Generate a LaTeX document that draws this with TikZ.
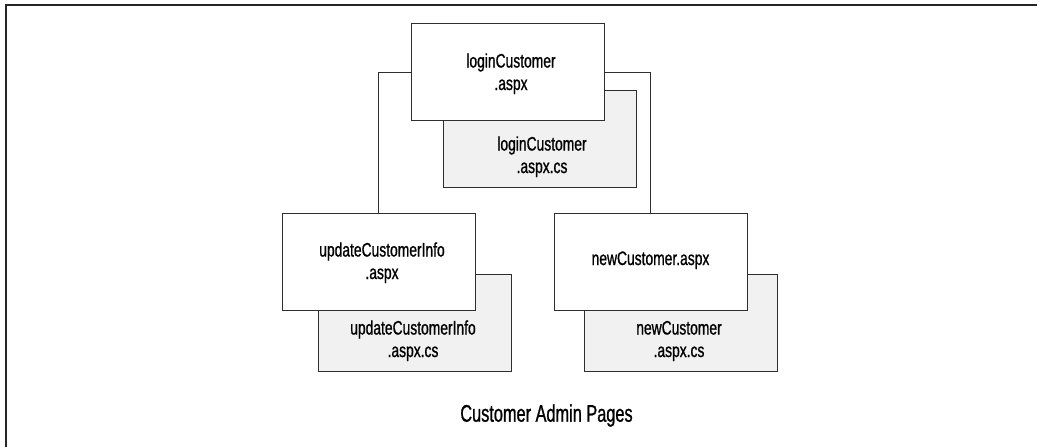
\documentclass[tikz,border=0pt]{standalone}
\usepackage{fontspec}
\setmainfont[FakeStretch=0.71,FakeBold=0.9]{Liberation Sans}
\newfontfamily\capfont[FakeStretch=0.68,FakeBold=0.9]{Liberation Sans}
\definecolor{edge}{HTML}{2E2E2E}
\definecolor{shade}{HTML}{F1F1F1}
\tikzset{
  page/.style={draw=edge, line width=1pt, fill=white, inner sep=0pt, outer sep=0pt,
               minimum width=193pt, minimum height=97pt},
  code/.style={page, fill=shade},
  lbl/.style={inner sep=0pt, outer sep=0pt, anchor=base, align=center,
              font=\fontsize{19.5}{22.5}\selectfont},
  wire/.style={draw=edge, line width=1pt},
  frameline/.style={draw=black!85, line width=1.6pt}
}
\begin{document}
\begin{tikzpicture}[x=1pt, y=-1pt]
\useasboundingbox (0,0) rectangle (1046,447);
% frame (top and left sides only)
\coordinate (fbl) at (5.7,447);
\coordinate (ftl) at (5.7,4.7);
\coordinate (ftr) at (1037,4.7);
\draw[frameline] (fbl) -- (ftl) -- (ftr);
% code-behind boxes
\node[code] (loginCS) at (539.7,139.4) {};
\node[code] (updCS) at (414.5,323) {};
\node[code] (newCS) at (680.5,323.4) {};
% page boxes
\node[page] (login) at (507.9,72) {};
\node[page] (upd) at (378.9,262) {};
\node[page] (newc) at (650.9,262) {};
% connectors
\draw[wire] (login.west) -| (upd.north);
\draw[wire] (login.east) -| (newc.north);
% labels (anchor base = baseline of the last line)
\node[lbl] (loginT) at (511,90) {loginCustomer\\.aspx};
\node[lbl] (loginCST) at (542,173) {loginCustomer\\.aspx.cs};
\node[lbl] (updT) at (382,279) {updateCustomerInfo\\.aspx};
\node[lbl] (updCST) at (413,357) {updateCustomerInfo\\.aspx.cs};
\node[lbl] (newT) at (650.5,265) {newCustomer.aspx};
\node[lbl] (newCST) at (679,357) {newCustomer\\.aspx.cs};
\node[inner sep=0pt, anchor=base, font=\capfont\fontsize{24}{28}\selectfont] (cap) at (546.5,421.7) {Customer Admin Pages};
\end{tikzpicture}
\end{document}
